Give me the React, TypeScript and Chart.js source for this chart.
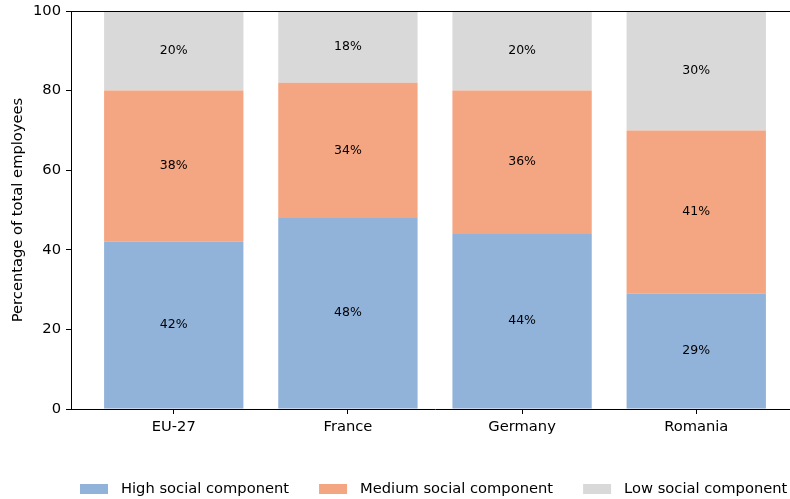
import React, { useEffect, useRef } from "react";
import { Chart, registerables } from "chart.js";

Chart.register(...registerables);

const categories = ["EU-27", "France", "Germany", "Romania"];
const highValues = [42, 48, 44, 29];
const mediumValues = [38, 34, 36, 41];
const lowValues = [20, 18, 20, 30];
const seriesLabels = ["High social component", "Medium social component", "Low social component"];
const seriesColors = ["#91b2d9", "#f4a582", "#d9d9d9"];
const yTickValues = [0, 20, 40, 60, 80, 100];
const yAxisTitle = "Percentage of total employees";

const FONT = "'DejaVu Sans', sans-serif";
const FS = 14.7;

const overlayPlugin = {
  id: "overlay",
  afterDraw(chart: any) {
    const ctx = chart.ctx;
    const { left, right, top, bottom } = chart.chartArea;
    ctx.save();
    // bar labels
    ctx.font = `12.5px ${FONT}`;
    ctx.fillStyle = "#000";
    ctx.textAlign = "center";
    ctx.textBaseline = "middle";
    chart.data.datasets.forEach((ds: any, di: number) => {
      const meta = chart.getDatasetMeta(di);
      meta.data.forEach((el: any, i: number) => {
        const v = ds.data[i].y;
        ctx.fillText(`${v}%`, el.x, (el.y + el.base) / 2);
      });
    });
    // top and right spines
    ctx.strokeStyle = "#000";
    ctx.lineWidth = 1;
    ctx.beginPath();
    ctx.moveTo(left, Math.round(top) + 0.5);
    ctx.lineTo(right, Math.round(top) + 0.5);
    ctx.moveTo(Math.round(right) - 0.5, top);
    ctx.lineTo(Math.round(right) - 0.5, bottom);
    ctx.stroke();
    // legend
    ctx.font = `${FS}px ${FONT}`;
    ctx.textAlign = "left";
    ctx.textBaseline = "middle";
    let x = 80;
    const ly = 489;
    chart.data.datasets.forEach((ds: any) => {
      ctx.fillStyle = ds.backgroundColor;
      ctx.fillRect(x, ly - 5, 28, 10);
      ctx.fillStyle = "#000";
      ctx.fillText(ds.label, x + 41, ly);
      const w = ctx.measureText(ds.label).width;
      x += 41 + w + 30;
    });
    ctx.restore();
  },
};

export default function App() {
  const canvasRef = useRef<HTMLCanvasElement>(null);

  useEffect(() => {
    if (!canvasRef.current) return;
    Chart.defaults.font.family = FONT;
    const seriesValues = [highValues, mediumValues, lowValues];
    const chart = new Chart(canvasRef.current, {
      type: "bar",
      data: {
        datasets: seriesValues.map((vals, si) => ({
          label: seriesLabels[si],
          data: vals.map((v, i) => ({ x: i, y: v })),
          backgroundColor: seriesColors[si],
          borderWidth: 0,
          barPercentage: 0.8,
          categoryPercentage: 1,
        })),
      },
      options: {
        animation: false,
        responsive: false,
        events: [],
        layout: { padding: { left: 0, right: 11, top: 11, bottom: 60 } },
        plugins: {
          legend: { display: false },
          tooltip: { enabled: false },
        },
        scales: {
          x: {
            type: "linear",
            min: -0.59,
            max: 3.59,
            offset: false,
            stacked: true,
            afterBuildTicks: (s: any) => {
              s.ticks = categories.map((_, i) => ({ value: i }));
            },
            afterFit: (s: any) => {
              s.height = 30;
              s.paddingLeft = 0;
              s.paddingRight = 0;
            },
            ticks: {
              callback: (value: any) => categories[Math.round(Number(value))] ?? "",
              color: "#000",
              font: { size: FS },
              padding: 4,
              maxRotation: 0,
              autoSkip: false,
            },
            grid: {
              offset: false,
              drawOnChartArea: false,
              drawTicks: true,
              tickLength: 5,
              tickColor: "#000",
            },
            border: { display: true, color: "#000", width: 1 },
          },
          y: {
            type: "linear",
            min: 0,
            max: 100,
            stacked: true,
            afterBuildTicks: (s: any) => {
              s.ticks = yTickValues.map((v) => ({ value: v }));
            },
            afterFit: (s: any) => {
              s.width = 71;
              s.paddingTop = 0;
              s.paddingBottom = 0;
            },
            ticks: {
              color: "#000",
              font: { size: FS },
              padding: 5,
            },
            grid: {
              drawOnChartArea: false,
              drawTicks: true,
              tickLength: 5,
              tickColor: "#000",
            },
            border: { display: true, color: "#000", width: 1 },
            title: {
              display: true,
              text: yAxisTitle,
              color: "#000",
              font: { size: FS },
              padding: { top: 9, bottom: 0 },
            },
          },
        },
      },
      plugins: [overlayPlugin],
    } as any);
    return () => chart.destroy();
  }, []);

  return (
    <div
      style={{
        position: "fixed",
        left: 0,
        top: 0,
        width: 790,
        height: 499,
        overflow: "hidden",
        background: "#fff",
      }}
    >
      <canvas
        ref={canvasRef}
        width={810}
        height={499}
        style={{ display: "block", width: 810, height: 499 }}
      />
    </div>
  );
}
